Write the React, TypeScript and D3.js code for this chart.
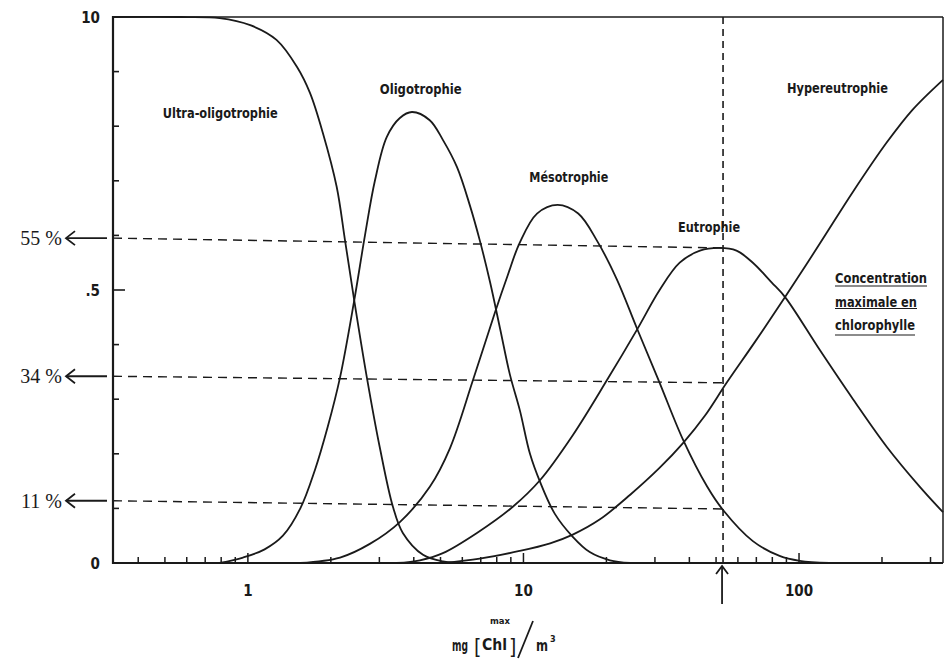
import React from 'react';
import { scaleLog, scaleLinear, line, curveCatmullRom } from 'd3';

// [concentration mg/m3, probability]
const ultraOligo: [number, number][] = [
  [0.324, 1.0], [0.57, 1.0], [0.79, 0.998], [1.02, 0.985], [1.27, 0.958], [1.51, 0.908],
  [1.68, 0.861], [1.87, 0.788], [2.1, 0.689], [2.25, 0.592], [2.43, 0.482], [2.7, 0.341],
  [3.01, 0.212], [3.36, 0.103], [3.65, 0.055], [4.32, 0.015], [5.1, 0.003], [6.4, 0],
];
const oligo: [number, number][] = [
  [0.79, 0], [0.96, 0.01], [1.15, 0.025], [1.34, 0.05], [1.55, 0.1], [1.75, 0.17],
  [1.95, 0.25], [2.16, 0.34], [2.43, 0.48], [2.66, 0.6], [2.89, 0.7], [3.19, 0.78],
  [3.56, 0.815], [3.94, 0.826], [4.57, 0.811], [5.1, 0.775], [5.74, 0.725], [6.39, 0.655],
  [6.95, 0.59], [7.56, 0.515], [8.22, 0.43], [8.93, 0.345], [9.7, 0.28], [10.56, 0.2],
  [11.5, 0.148], [13.0, 0.09], [15.1, 0.048], [17.4, 0.02], [20.6, 0.005], [24.4, 0],
];
const meso: [number, number][] = [
  [1.55, 0], [2.16, 0.01], [2.77, 0.035], [3.56, 0.075], [4.58, 0.14], [5.41, 0.21],
  [6.56, 0.335], [7.87, 0.458], [8.77, 0.527], [9.68, 0.586], [11.2, 0.64], [13.3, 0.656],
  [15.8, 0.64], [18.5, 0.59], [21.8, 0.52], [25.8, 0.43], [31.2, 0.33], [38.0, 0.225],
  [46.4, 0.14], [53.0, 0.097], [68.0, 0.04], [85, 0.013], [100.6, 0.004], [129, 0],
];
const eutro: [number, number][] = [
  [3.47, 0], [4.21, 0.005], [5.1, 0.018], [6.78, 0.055], [9.15, 0.103], [11.5, 0.152],
  [15.1, 0.234], [20.1, 0.335], [25.8, 0.427], [31.2, 0.5], [36.9, 0.55], [43.7, 0.572],
  [51.5, 0.577], [59.3, 0.572], [68.0, 0.55], [79.5, 0.514], [89.0, 0.487], [119, 0.39],
  [157, 0.3], [208, 0.213], [275, 0.139], [333, 0.093],
];
const hyper: [number, number][] = [
  [5.1, 0], [6.94, 0.008], [9.68, 0.022], [12.5, 0.036], [15.1, 0.052], [18.95, 0.08],
  [24.4, 0.125], [31.3, 0.175], [38.0, 0.22], [45.6, 0.27], [54.6, 0.33], [69.2, 0.405],
  [89.0, 0.487], [119, 0.585], [157, 0.68], [208, 0.77], [258, 0.83], [333, 0.885],
];

const seriesData = [ultraOligo, oligo, meso, eutro, hyper];
const seriesNames = ['Ultra-oligotrophie', 'Oligotrophie', 'Mésotrophie', 'Eutrophie', 'Hypereutrophie'];
// label anchors in data units (start of text, baseline)
const seriesLabelAt: [number, number][] = [[0.491, 0.815], [3.01, 0.859], [10.5, 0.697], [36.4, 0.606], [90.4, 0.861]];
const seriesLabelLen = [115, 82, 79, 62, 101];

const guideLabels = ['55 %', '34 %', '11 %'];
const guideLeft = [0.595, 0.342, 0.114];
const guideRight = [0.577, 0.33, 0.099];
const markerX = 53;

const xTickValues = [1, 10, 100];
const xTickLabels = ['1', '10', '100'];
const yTickValues = [0, 0.5, 1];
const yTickLabels = ['0', '.5', '10'];

const noteLines = ['Concentration', 'maximale en', 'chlorophylle'];
const noteLen = [92, 82, 80];

const W = 951;
const H = 663;
const ink = '#1a1a1a';
const narrow = "'Liberation Sans Narrow', 'DejaVu Sans Condensed', 'Liberation Sans', Arial, sans-serif";

const App = () => {
  const x = scaleLog().domain([0.324, 333]).range([113, 943]);
  const y = scaleLinear().domain([0, 1]).range([563, 17]);
  const path = line<[number, number]>()
    .x((d) => x(d[0]))
    .y((d) => Math.min(y(0), y(d[1])))
    .curve(curveCatmullRom.alpha(0.5));

  const [x0, x1] = x.range();
  const [y0, y1] = y.range();
  const xt = x.ticks();
  const yt = y.ticks(10);
  const mx = x(markerX);

  return (
    <svg width={W} height={H} style={{ position: 'absolute', left: 0, top: 0, background: '#fff' }}>
      {/* frame */}
      <line x1={x0} y1={y1} x2={x1} y2={y1} stroke={ink} strokeWidth={1.5} />
      <line x1={x1} y1={y1} x2={x1} y2={y0} stroke={ink} strokeWidth={1.5} />
      <line x1={x0} y1={y1 - 1} x2={x0} y2={y0 + 1} stroke={ink} strokeWidth={2.2} />
      <line x1={x0} y1={y0} x2={x1} y2={y0} stroke={ink} strokeWidth={2} />

      {/* ticks */}
      {xt.map((t, i) => {
        const major = Math.abs(Math.log10(t) - Math.round(Math.log10(t))) < 1e-9;
        return <line key={'xt' + i} x1={x(t)} x2={x(t)} y1={y0} y2={y0 - (major ? 10 : 6)} stroke={ink} strokeWidth={1.5} />;
      })}
      {yt.map((t, i) => (
        <line key={'yt' + i} x1={x0} x2={x0 + (Math.abs(t - 0.5) < 1e-9 ? 12 : 6)} y1={y(t)} y2={y(t)} stroke={ink} strokeWidth={1.6} />
      ))}

      {/* tick labels */}
      {xTickValues.map((v, i) => (
        <text key={'xl' + i} x={x(v)} y={596} textAnchor="middle" fontFamily={narrow} fontWeight="bold" fontSize={15} fill={ink}>
          {xTickLabels[i]}
        </text>
      ))}
      {yTickValues.map((v, i) => (
        <text key={'yl' + i} x={100} y={y(v) + 6} textAnchor="end" fontFamily={narrow} fontWeight="bold" fontSize={15} fill={ink}>
          {yTickLabels[i]}
        </text>
      ))}

      {/* guide lines */}
      {guideLeft.map((v, i) => (
        <g key={'g' + i}>
          <line x1={x0} y1={y(v)} x2={mx} y2={y(guideRight[i])} stroke={ink} strokeWidth={1.4} strokeDasharray="9,6" />
          <line x1={66} y1={y(v)} x2={107} y2={y(v)} stroke={ink} strokeWidth={1.8} />
          <path d={`M${75},${y(v) - 7} L66,${y(v)} L${75},${y(v) + 7}`} fill="none" stroke={ink} strokeWidth={1.8} />
          <text x={62} y={y(v) + 7} textAnchor="end" fontFamily="'Liberation Serif', 'Times New Roman', serif" fontSize={20} fill={ink}>
            {guideLabels[i]}
          </text>
        </g>
      ))}
      <line x1={mx} y1={y1} x2={mx} y2={y0} stroke={ink} strokeWidth={1.6} strokeDasharray="7,5" />
      <line x1={mx - 1} y1={y0 + 3} x2={mx - 1} y2={604} stroke={ink} strokeWidth={1.8} />
      <path d={`M${mx - 7},${y0 + 11} L${mx - 1},${y0 + 3} L${mx + 5},${y0 + 11}`} fill="none" stroke={ink} strokeWidth={1.8} />

      {/* curves */}
      {seriesData.map((s, i) => (
        <path key={'s' + i} d={path(s) ?? ''} fill="none" stroke={ink} strokeWidth={1.8} />
      ))}

      {/* curve labels */}
      {seriesNames.map((n, i) => (
        <text key={'n' + i} x={x(seriesLabelAt[i][0])} y={y(seriesLabelAt[i][1])} fontFamily={narrow} fontWeight="bold" fontSize={14}
          textLength={seriesLabelLen[i]} lengthAdjust="spacingAndGlyphs" fill={ink}>
          {n}
        </text>
      ))}

      {/* note */}
      {noteLines.map((t, i) => (
        <g key={'note' + i}>
          <text x={835} y={283 + i * 23.5} fontFamily={narrow} fontWeight="bold" fontSize={14} textLength={noteLen[i]}
            lengthAdjust="spacingAndGlyphs" fill={ink}>
            {t}
          </text>
          <line x1={835} x2={835 + noteLen[i]} y1={i === 2 ? 335 : 286 + i * 22.5} y2={i === 2 ? 335 : 286 + i * 22.5}
            stroke={ink} strokeWidth={1.2} />
        </g>
      ))}

      {/* axis title */}
      <g fontFamily={narrow} fontWeight="bold" fill={ink}>
        <text x={490} y={624} fontSize={8} textLength={20} lengthAdjust="spacingAndGlyphs">max</text>
        <text x={452} y={651} fontSize={15} textLength={16} lengthAdjust="spacingAndGlyphs">mg</text>
        <text x={474} y={654} fontSize={21} fontWeight="normal">[</text>
        <text x={482} y={650} fontSize={15} textLength={25} lengthAdjust="spacingAndGlyphs">Chl</text>
        <text x={509} y={654} fontSize={21} fontWeight="normal">]</text>
        <line x1={518} y1={658} x2={533} y2={621} stroke={ink} strokeWidth={1.8} />
        <text x={536} y={651} fontSize={15} textLength={12} lengthAdjust="spacingAndGlyphs">m</text>
        <text x={550} y={642} fontSize={9}>3</text>
      </g>
    </svg>
  );
};

export default App;
